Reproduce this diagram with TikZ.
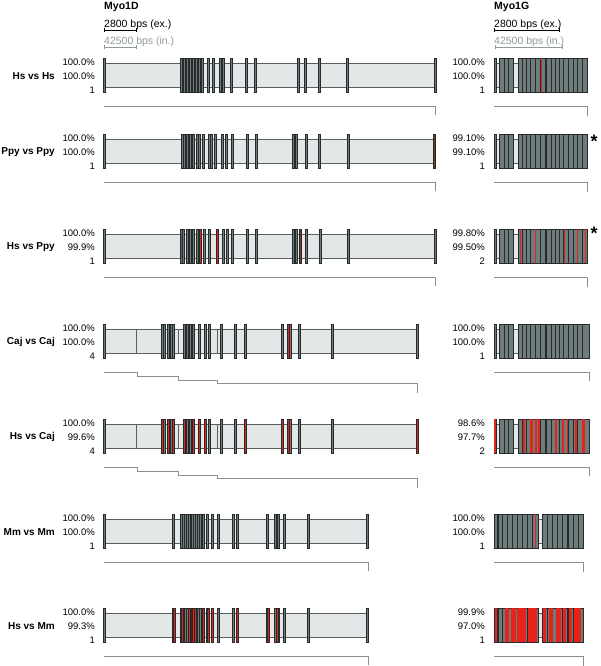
\documentclass[tikz,border=0pt]{standalone}
\usepackage{fontspec}
\setmainfont{Liberation Sans}
\usetikzlibrary{positioning,arrows.meta}
\definecolor{barfill}{HTML}{E3E7E7}
\definecolor{barline}{HTML}{5A5F60}
\definecolor{exonfill}{HTML}{6E7D7C}
\definecolor{exonline}{HTML}{262A2A}
\definecolor{hitred}{HTML}{E5231B}
\definecolor{darkred}{HTML}{8E2A22}
\definecolor{brkgray}{HTML}{8A8F90}
\definecolor{scalegray}{HTML}{8F9A9A}

% one gene track: y centre, end, exon positions
\newcommand\geneD[3]{%
  \draw[bar] (104,#1-12) rectangle (#2,#1+12);
  \foreach \ex in {#3} {\draw[exon] (\ex-1.2,#1-17) rectangle (\ex+1.2,#1+17);}}
\newcommand\hitsD[3]{%
  \foreach \ex in {#3} {\draw[exon,fill=#2] (\ex-1.2,#1-17) rectangle (\ex+1.2,#1+17);}}
\newcommand\geneG[3]{%
  \draw[bar] (494,#1-12) rectangle (#2,#1+12);
  \foreach \xa/\xb in {#3} {\draw[exon,line width=0.6pt] (\xa,#1-17) rectangle (\xb,#1+17);}}
\newcommand\hitsG[2]{%
  \foreach \xa/\xb in {#2} {\fill[hitred] (\xa,#1-17) rectangle (\xb,#1+17);}}

\begin{document}
\begin{tikzpicture}[x=1pt,y=-1pt,
  txt/.style={inner sep=0pt,font=\fontsize{9.5}{11}\selectfont},
  pct/.style={txt,anchor=east},
  scaletxt/.style={txt,anchor=base west,font=\fontsize{10.5}{12}\selectfont},
  pair/.style={txt,anchor=east,font=\fontsize{10}{12}\selectfont\bfseries},
  gene/.style={txt,anchor=west,font=\fontsize{10.5}{12}\selectfont\bfseries},
  bar/.style={fill=barfill,draw=barline,line width=0.6pt},
  exon/.style={fill=exonfill,draw=exonline,line width=0.45pt},
  brk/.style={draw=brkgray,line width=0.7pt},
  scl/.style={line width=0.8pt,{Bar[width=4pt]}-{Bar[width=4pt]}}
]
\useasboundingbox (0,0) rectangle (600,666);

% headers and scale bars
\node[gene] (myoD) at (104,7) {Myo1D};
\node[gene] (myoG) at (494,7) {Myo1G};
\node[scaletxt] (exD) at (104,28) {2800 bps (ex.)};
\node[scaletxt,text=scalegray] (inD) at (104,45) {42500 bps (in.)};
\node[scaletxt] (exG) at (494,28) {2800 bps (ex.)};
\node[scaletxt,text=scalegray] (inG) at (494,45) {42500 bps (in.)};
\draw[scl] (104,30) -- (137,30);
\draw[scl,scalegray] (104,47) -- (137,47);
\draw[scl] (494,30) -- (560,30);
\draw[scl,scalegray] (495,47) -- (563,47);

% row labels
\foreach \i/\yc/\pr/\da/\db/\dn/\ga/\gb/\gn in {
  1/75/Hs vs Hs/100.0\%/100.0\%/1/100.0\%/100.0\%/1,
  2/151/Ppy vs Ppy/100.0\%/100.0\%/1/99.10\%/99.10\%/1,
  3/246/Hs vs Ppy/100.0\%/99.9\%/1/99.80\%/99.50\%/2,
  4/341/Caj vs Caj/100.0\%/100.0\%/4/100.0\%/100.0\%/1,
  5/436/Hs vs Caj/100.0\%/99.6\%/4/98.6\%/97.7\%/2,
  6/531/Mm vs Mm/100.0\%/100.0\%/1/100.0\%/100.0\%/1,
  7/625/Hs vs Mm/100.0\%/99.3\%/1/99.9\%/97.0\%/1}{
  \node[pair] (pair\i) at (55,\yc+1) {\pr};
  \node[pct] (da\i) at (95,\yc-13) {\da};
  \node[pct] (db\i) at (95,\yc+1) {\db};
  \node[pct] (dn\i) at (95,\yc+15) {\dn};
  \node[pct] (ga\i) at (485,\yc-13) {\ga};
  \node[pct] (gb\i) at (485,\yc+1) {\gb};
  \node[pct] (gn\i) at (485,\yc+15) {\gn};
}

% Myo1D tracks
\geneD{75}{435}{104,181,184,187,190,193,196,199,202,208,213,220,223,231,246,255,298,305,319,347,435}
\geneD{151}{435}{104,182,184,187,190,193,197,199,203,209,211,215,222,226,232,247,256,293,296,306,319,348}
\hitsD{151}{darkred}{434}
\geneD{246}{435}{104,181,183,187,190,193,197,204,209,223,227,232,247,256,293,296,306,320,348,435}
\draw[barline,line width=0.5pt] (181,234) -- (181,258);
\hitsD{246}{hitred}{200,217}
\hitsD{246}{darkred}{300}
\foreach \yc in {341,436}{
  \geneD{\yc}{417}{104,162,164.5,168,171,173,184,187,190,193,199,205,209,221,235,245,282,290,299,332,417}
  \foreach \xd in {136,178,217} {\draw[barline,line width=0.5pt] (\xd,\yc-12) -- (\xd,\yc+12);}
}
\hitsD{341}{hitred}{288}
\hitsD{436}{hitred}{162,168,173,184,193,199,205,245,282,288,417}
\foreach \yc in {531,625}{
  \geneD{\yc}{368}{104,173,181,183,185,187,189,192,194,196,198,200,203,207,212,218,233,237,267,275,278,284,308,367}
}
\hitsD{625}{hitred}{174,182,189,193,195,203,208,212,237,268,277}

% Myo1G tracks
\foreach \yc/\gend in {75/587,151/587,246/587,341/589,436/589}{
  \geneG{\yc}{\gend}{494/496.5,499/504,504/508.5,508.5/513,518/522,522/526,526/530,530/535,535/540,540/545,546/551,551/555,555/559,559/563,563/568,568/573,573/577,577/582,582/\gend}
}
\hitsG{75}{540.5/541.5}
\hitsG{246}{519.5/520.5,534.5/535.5,563.5/564.5,576.5/577.5,584.5/585.5}
\hitsG{436}{494/496,523/525,530/533,535/537,538/540,555/557,562/563.5,567/568,575/577,582/585}
\foreach \yc in {531,625}{
  \geneG{\yc}{583}{494/497,498/502,502/507,507/512,512/517,517/522,522/527,527/532,532/538,542/547,547/552,552/557,557/562,562/567,568/573,573/578,578/583}
}
\hitsG{531}{534.5/535.5}
\hitsG{625}{494.5/496.5,505/509,511/516,517/526,528/537,543/546,549/553,556/561,563/566,569/572,574/581}

% bracket lines
\foreach \yc/\de/\gend in {75/435/587,151/435/587,246/435/587,531/368/583,625/368/583}{
  \draw[brk] (104,\yc+31) -| (\de,\yc+40);
  \draw[brk] (494,\yc+31) -| (\gend,\yc+41);
}
\foreach \yc in {341,436}{
  \draw[brk] (104,\yc+31) -| (137,\yc+35) -| (178,\yc+39) -| (217,\yc+42) -| (417,\yc+52);
  \draw[brk] (494,\yc+31) -| (589,\yc+40);
}

% marks
\node[txt,anchor=north,font=\fontsize{18}{18}\selectfont\bfseries] (ast2) at (594,135) {*};
\node[txt,anchor=north,font=\fontsize{18}{18}\selectfont\bfseries] (ast3) at (594,227) {*};
\end{tikzpicture}
\end{document}
